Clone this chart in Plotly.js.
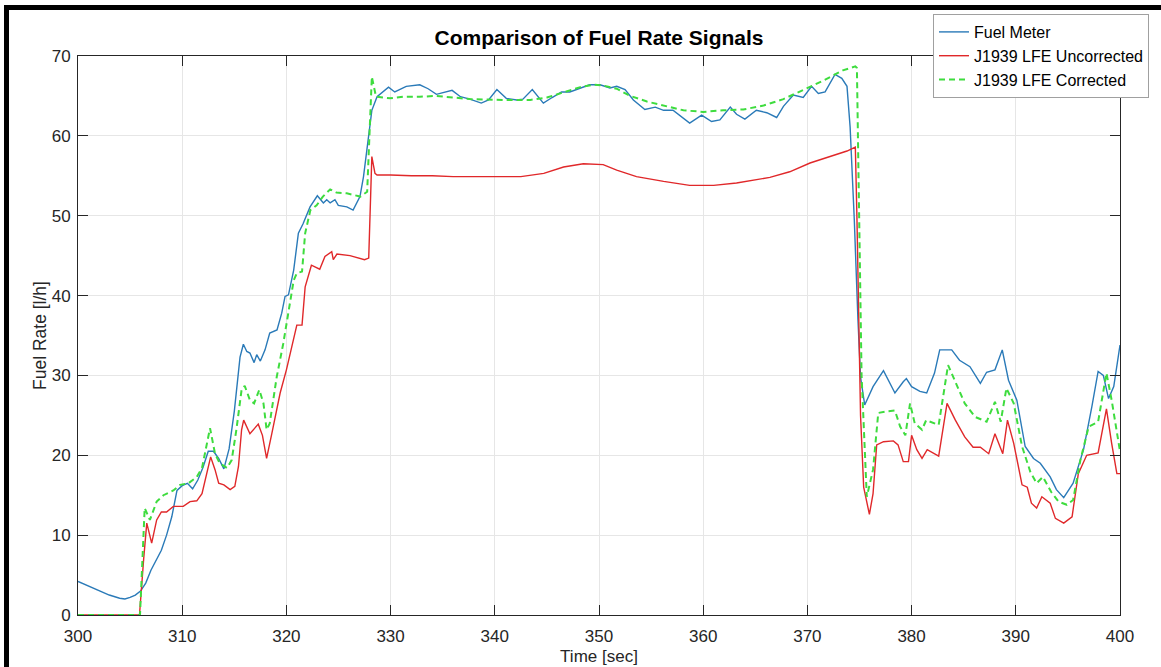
<!DOCTYPE html>
<html>
<head>
<meta charset="utf-8">
<script src="https://cdn.plot.ly/plotly-3.0.1.min.js"></script>
<style>
  html, body { margin:0; padding:0; background:#fff; }
  #wrap { position:relative; width:1161px; height:667px; overflow:hidden; }
  #chart { position:absolute; left:0; top:0; width:1161px; height:667px; }
  #frame { position:absolute; left:4px; top:5px; width:1220px; height:720px; border:5px solid #000; pointer-events:none; box-sizing:border-box; }
</style>
</head>
<body>
<div id="wrap">
  <div id="chart"></div>
  <div id="frame"></div>
</div>
<script>
// ---- Data ----
const fuelMeterT = [300,301,302,303,304,304.5,305,305.5,306,306.5,307,307.5,308,308.5,309,309.5,310,310.5,311,311.5,312,312.5,313,313.5,314,314.5,315,315.55,315.87,316.2,316.5,316.9,317.15,317.5,317.95,318.4,319.1,319.55,319.87,320.2,320.7,321.15,321.6,322.27,322.97,323.55,323.87,324.2,324.66,324.98,325.8,326.4,327.06,327.4,327.7,328.2,328.7,329.8,330.4,331.5,332.8,333.6,334.4,335.9,336.7,337.6,338.7,339.4,340.2,341.1,342.1,342.7,343.6,344.66,345.5,346.4,347.2,348.2,349.1,350.1,351.05,351.7,352.5,353.3,354.4,355.4,356.2,357.1,357.9,358.7,359.85,360.8,361.6,362.6,363.2,364.0,365.1,366.1,367.05,367.7,368.65,369.6,370.4,371.05,371.7,372.65,373.3,373.8,374.1,374.5,374.85,375.1,375.5,376.3,377.3,378.4,379.2,379.5,380.0,380.8,381.45,382.2,382.7,383.85,384.6,385.6,386.6,387.2,388.0,388.7,389.3,390.1,390.9,391.7,392.35,393.3,393.9,394.6,395.5,396.5,397.3,397.9,398.4,398.9,399.4,399.8,400];
const fuelMeterV = [4.2,3.6,3.0,2.5,2.1,2.0,2.2,2.5,3.0,4.0,5.6,6.8,8.1,10.0,12.3,15.6,16.2,16.5,15.8,16.9,18.5,20.5,20.5,19.6,18.3,20.8,25.5,32.3,33.9,33.0,32.8,31.6,32.6,31.8,33.2,35.3,35.7,37.8,39.9,40.1,43.2,47.8,49.0,51.1,52.5,51.6,52.0,51.6,52.0,51.3,51.1,50.7,52.4,54.9,58.2,63.2,64.9,66.1,65.5,66.2,66.4,65.9,65.2,65.7,64.9,64.6,64.1,64.5,65.8,64.7,64.5,64.6,65.8,64.1,64.8,65.5,65.5,66.0,66.4,66.4,66.0,66.2,65.8,64.5,63.3,63.6,63.2,63.2,62.4,61.6,62.6,61.8,62.0,63.6,62.7,62.1,63.2,62.9,62.3,63.7,65.1,64.8,66.2,65.3,65.5,67.7,67.2,66.2,61.1,49.5,37.0,29.8,26.3,28.6,30.6,27.8,29.2,29.6,28.6,28.0,27.8,30.3,33.2,33.2,31.9,31.1,29.0,30.4,30.7,33.2,29.4,26.9,21.1,19.6,19.0,17.3,15.7,14.7,16.5,20.7,26.1,30.5,30.0,27.1,28.6,31.9,33.8];

const uncorrT = [300,305.9,306.3,306.6,307.07,307.55,308.0,308.5,309.15,310.1,310.75,311.4,311.9,312.35,312.73,313.15,313.5,314.0,314.6,315.05,315.4,315.7,315.9,316.5,317.3,317.7,318.1,318.6,319.4,320.0,320.7,321.0,321.5,321.8,322.4,323.2,323.7,324.35,324.5,324.85,326.1,327.5,327.9,328.2,328.5,328.7,330,332,334,336,338,340,342.5,344.7,346.6,348.5,350.4,351.7,353.6,356.2,358.7,361.0,363.2,366.4,368.3,370.25,372.2,373.8,374.6,374.75,375.1,375.4,375.95,376.3,376.65,377.3,378.25,378.7,379.2,379.7,380.0,380.5,381.0,381.5,382.6,383.4,384.2,385.1,385.9,386.6,387.4,388.0,388.75,389.2,389.8,390.6,391.1,391.5,392.0,392.5,393.3,393.8,394.6,395.4,396.0,396.8,397.9,398.7,399.2,399.7,400];
const uncorrV = [0,0,7,11.5,9.0,11.9,12.9,12.9,13.6,13.6,14.2,14.3,15.2,17.7,19.8,18.2,16.5,16.3,15.7,16.1,18.6,23.2,24.4,22.7,23.9,22.5,19.6,22.7,27.8,30.7,34.4,36.3,36.3,41.1,43.8,43.3,44.9,45.5,44.5,45.2,45.0,44.5,44.7,57.4,55.3,55.1,55.1,55.0,55.0,54.9,54.9,54.9,54.9,55.3,56.1,56.5,56.4,55.7,54.9,54.3,53.8,53.8,54.1,54.8,55.5,56.6,57.4,58.1,58.6,50,25,16,12.6,15.2,21.3,21.7,21.8,21.3,19.2,19.2,22.5,20.7,19.6,20.7,19.9,26.5,24.4,22.3,21.0,21.0,20.2,22.7,20.2,24.4,21.5,16.3,16.0,14.0,13.4,14.8,14.0,12.1,11.5,12.3,17.7,20.0,20.3,25.8,21.5,17.7,17.7];

const corrT = [300,305.95,306.4,306.9,307.55,308.2,309.15,309.8,310.6,311.4,311.9,312.35,312.67,313.15,313.6,314.3,314.75,315.2,315.7,316.0,316.5,316.9,317.4,317.8,318.1,318.4,319.07,319.7,320.2,320.7,321.0,321.5,321.8,322.3,322.9,323.5,324.2,324.8,325.8,327.1,327.75,328.2,328.6,329.95,331.2,332.8,334.4,336.0,337.6,340.8,343.4,345.0,346.6,348.2,349.5,350.4,351.7,353.0,354.6,356.2,358.1,360.0,361.9,363.85,365.8,367.7,369.6,371.5,373.4,374.6,374.75,375.2,375.7,376.3,376.8,377.6,378.4,378.9,379.4,379.85,380.3,381.0,381.4,382.6,383.5,384.2,385.1,386.1,387.2,388.0,388.55,389.1,389.8,390.6,391.4,392.0,392.6,393.4,394.1,394.9,395.5,396.2,397.0,397.9,398.7,399.2,399.9,400];
const corrV = [0,0,13.4,11.9,14.2,15.0,15.6,16.3,16.5,17.3,18.4,21.5,23.4,20.2,19.0,18.4,19.4,23.2,28.2,28.7,26.9,26.5,28.2,26.5,23.2,24.0,29.8,34.0,37.8,41.9,42.8,43.0,47.8,50.7,51.3,52.4,53.3,52.9,52.8,52.4,53.0,67.4,64.9,64.7,64.9,64.9,65.0,64.8,64.6,64.5,64.5,64.8,65.5,66.1,66.4,66.3,65.9,65.0,64.3,63.8,63.2,63.0,63.2,63.3,63.8,64.6,65.7,66.9,68.2,68.7,68.5,30,14.8,18.2,25.3,25.5,25.6,23.6,22.5,26.5,24.0,23.2,24.4,23.8,31.3,29.2,26.5,24.8,24.2,26.7,24.2,28.4,26.5,21.1,17.9,16.5,17.3,15.4,14.2,13.8,14.4,19.4,23.6,24.2,30.3,26.9,20.9,20.5];

const seriesNames = ['Fuel Meter', 'J1939 LFE Uncorrected', 'J1939 LFE Corrected'];
const xTicks = [300,310,320,330,340,350,360,370,380,390,400];
const yTicks = [0,10,20,30,40,50,60,70];

// ---- Chart ----
const FONT = 'Liberation Sans, Arial, Helvetica, sans-serif';
const traces = [
  { x: fuelMeterT, y: fuelMeterV, name: seriesNames[0], type: 'scatter', mode: 'lines',
    line: { color: '#2A7AB8', width: 1.4 } },
  { x: uncorrT, y: uncorrV, name: seriesNames[1], type: 'scatter', mode: 'lines',
    line: { color: '#E0282A', width: 1.4 } },
  { x: corrT, y: corrV, name: seriesNames[2], type: 'scatter', mode: 'lines',
    line: { color: '#3EDC3E', width: 2, dash: '6px,4px' } }
];

const axisCommon = {
  ticks: 'inside', ticklen: 10, tickwidth: 1, tickcolor: '#262626',
  showline: true, linecolor: '#262626', linewidth: 1, mirror: 'ticks',
  showgrid: true, gridcolor: '#e6e6e6', gridwidth: 1, zeroline: false,
  tickfont: { family: FONT, size: 17, color: '#262626' },
  automargin: false
};

const layout = {
  width: 1161, height: 667,
  margin: { l: 78, r: 41, t: 56, b: 52, pad: 0 },
  paper_bgcolor: '#ffffff', plot_bgcolor: '#ffffff',
  font: { family: FONT, color: '#262626' },
  showlegend: true,
  title: {
    text: '<b>Comparison of Fuel Rate Signals</b>',
    font: { family: FONT, size: 21, color: '#000000' },
    xref: 'paper', x: 0.5, xanchor: 'center',
    yref: 'container', y: 1 - 38 / 667, yanchor: 'middle'
  },
  xaxis: Object.assign({}, axisCommon, {
    range: [300, 400], tickmode: 'array', tickvals: xTicks, ticktext: xTicks.map(String),
    ticklabelstandoff: 6,
    title: { text: 'Time [sec]', font: { family: FONT, size: 17, color: '#262626' }, standoff: 4 }
  }),
  yaxis: Object.assign({}, axisCommon, {
    range: [0, 70], tickmode: 'array', tickvals: yTicks, ticktext: yTicks.map(String),
    ticklabelstandoff: 3,
    title: { text: 'Fuel Rate [l/h]', font: { family: FONT, size: 17.5, color: '#262626' }, standoff: 0 }
  }),
  legend: {
    x: (933 - 78) / 1042, y: (615 - 14) / 559, xanchor: 'left', yanchor: 'top',
    bgcolor: '#ffffff', bordercolor: '#a0a0a0', borderwidth: 1,
    font: { family: FONT, size: 16, color: '#000000' },
    tracegroupgap: 0
  }
};

Plotly.newPlot('chart', traces, layout, { displayModeBar: false, staticPlot: true });
</script>
</body>
</html>
